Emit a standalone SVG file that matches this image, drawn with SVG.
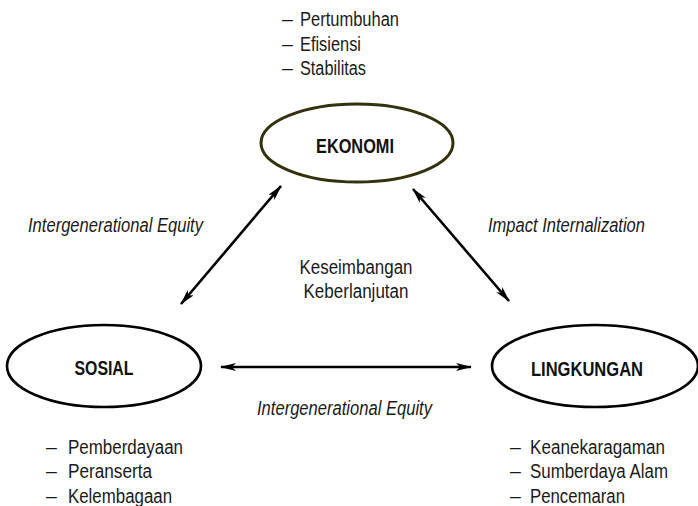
<svg xmlns="http://www.w3.org/2000/svg" width="698" height="506" viewBox="0 0 698 506">
<style>
.t{font-family:"Liberation Sans",Arial,sans-serif;font-size:19.5px;fill:#1a1a1a}
.b{font-family:"Liberation Sans",Arial,sans-serif;font-size:21px;font-weight:bold;fill:#111}
.i{font-family:"Liberation Sans",Arial,sans-serif;font-size:19.5px;font-style:italic;fill:#1a1a1a}
.n{fill:#fff;stroke:#000;stroke-width:2.6}
.c{stroke:#000;stroke-width:2.6;fill:none;marker-start:url(#ah);marker-end:url(#ah)}
</style>
<defs>
<marker id="ah" viewBox="0 0 16 8" refX="15" refY="4" markerWidth="16" markerHeight="8" markerUnits="userSpaceOnUse" orient="auto-start-reverse">
<path d="M0,0 L16,4 L0,8 L4,4 Z" fill="#000"/>
</marker>
</defs>
<rect width="698" height="506" fill="#fff"/>
<g id="connectors">
<line class="c" x1="181" y1="304" x2="281" y2="186"/>
<line class="c" x1="413" y1="189" x2="509" y2="301"/>
<line class="c" x1="221" y1="367" x2="471" y2="367"/>
</g>
<g id="ekonomi">
<ellipse cx="357" cy="143" rx="96" ry="39" fill="#fff" stroke="#33320f" stroke-width="3"/>
<text class="b" x="355" y="153" text-anchor="middle" textLength="78" lengthAdjust="spacingAndGlyphs">EKONOMI</text>
</g>
<g id="ekonomi-list">
<text class="t" x="282" y="26">–</text><text class="t" x="300" y="26" textLength="99" lengthAdjust="spacingAndGlyphs">Pertumbuhan</text>
<text class="t" x="282" y="51">–</text><text class="t" x="300" y="51" textLength="61" lengthAdjust="spacingAndGlyphs">Efisiensi</text>
<text class="t" x="282" y="75">–</text><text class="t" x="300" y="75" textLength="66" lengthAdjust="spacingAndGlyphs">Stabilitas</text>
</g>
<g id="sosial">
<ellipse class="n" cx="104" cy="366" rx="97" ry="41"/>
<text class="b" x="104" y="375" text-anchor="middle" textLength="59" lengthAdjust="spacingAndGlyphs">SOSIAL</text>
</g>
<g id="sosial-list">
<text class="t" x="46" y="454">–</text><text class="t" x="68" y="454" textLength="115" lengthAdjust="spacingAndGlyphs">Pemberdayaan</text>
<text class="t" x="46" y="478">–</text><text class="t" x="68" y="478" textLength="84" lengthAdjust="spacingAndGlyphs">Peranserta</text>
<text class="t" x="46" y="503">–</text><text class="t" x="68" y="503" textLength="104" lengthAdjust="spacingAndGlyphs">Kelembagaan</text>
</g>
<g id="lingkungan">
<ellipse class="n" cx="595" cy="366" rx="103" ry="41"/>
<text class="b" x="587" y="376" text-anchor="middle" textLength="112" lengthAdjust="spacingAndGlyphs">LINGKUNGAN</text>
</g>
<g id="lingkungan-list">
<text class="t" x="510" y="454">–</text><text class="t" x="530" y="454" textLength="135" lengthAdjust="spacingAndGlyphs">Keanekaragaman</text>
<text class="t" x="510" y="478">–</text><text class="t" x="530" y="478" textLength="138" lengthAdjust="spacingAndGlyphs">Sumberdaya Alam</text>
<text class="t" x="510" y="503">–</text><text class="t" x="530" y="503" textLength="95" lengthAdjust="spacingAndGlyphs">Pencemaran</text>
</g>
<g id="labels">
<text class="i" x="28" y="232" textLength="175" lengthAdjust="spacingAndGlyphs">Intergenerational Equity</text>
<text class="i" x="488" y="232" textLength="157" lengthAdjust="spacingAndGlyphs">Impact Internalization</text>
<text class="t" x="356" y="274" text-anchor="middle" textLength="113" lengthAdjust="spacingAndGlyphs">Keseimbangan</text>
<text class="t" x="356" y="298" text-anchor="middle" textLength="105" lengthAdjust="spacingAndGlyphs">Keberlanjutan</text>
<text class="i" x="257" y="415" textLength="175" lengthAdjust="spacingAndGlyphs">Intergenerational Equity</text>
</g>
</svg>
